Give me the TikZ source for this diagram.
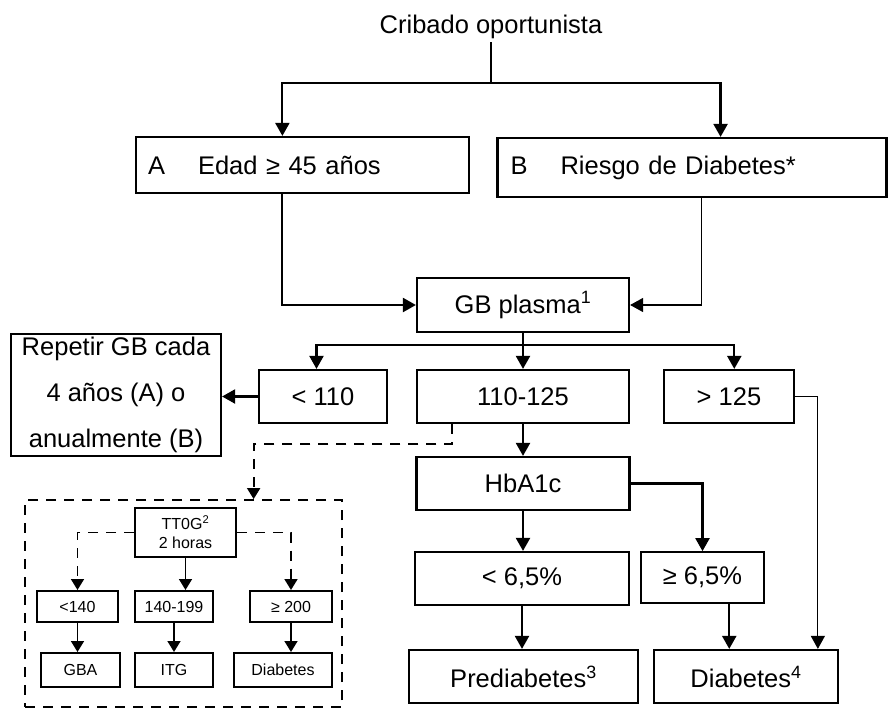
\documentclass[tikz,border=0pt]{standalone}
\usepackage{fontspec}
\setmainfont{Liberation Sans}
\usetikzlibrary{arrows.meta,calc}

\begin{document}
\begin{tikzpicture}[x=1pt,y=-1pt,
  font=\fontsize{25.5}{30}\selectfont,
  box/.style={draw,line width=2.2pt,inner sep=0pt,align=center},
  smallbox/.style={box,line width=2pt,font=\fontsize{16}{19}\selectfont},
  line/.style={line width=2.2pt},
  arr/.style={line width=2.2pt,-{Triangle[width=14pt,length=13pt]}},
  thinarr/.style={line width=1.2pt,-{Triangle[width=14pt,length=13pt]}},
  smallarr/.style={line width=1.6pt,-{Triangle[width=13pt,length=11pt]}},
  dasharr/.style={line width=1.8pt,dash pattern=on 10pt off 8pt,-{Triangle[width=13pt,length=11pt]}}]
\useasboundingbox (0,0) rectangle (889,709);

%picture
\node (crib) at (491,27) {Cribado oportunista};
\node[box,minimum width=333,minimum height=56,text width=309,align=left] (A) at (302.5,165) {A\hspace{33pt}Edad ≥ 45 años};
\node[box,minimum width=389,minimum height=59,text width=363,align=left] (B) at (692,167.5) {B\hspace{33pt}Riesgo de Diabetes*};
\node[box,minimum width=212,minimum height=54] (gb) at (523,305) {GB plasma\textsuperscript{1}};
\node[box,minimum width=128,minimum height=53] (lt) at (323,396.5) {< 110};
\node[box,minimum width=212,minimum height=53] (mid) at (523,396.5) {110-125};
\node[box,minimum width=130,minimum height=53] (gt) at (729,396.5) {> 125};
\node[box,minimum width=210,minimum height=122,font=\fontsize{25.5}{46}\selectfont] (rep) at (116,395) {Repetir GB cada\\4 años (A) o\\anualmente (B)};
\node[box,minimum width=213,minimum height=53] (hba) at (523,483.5) {HbA1c};
\node[box,minimum width=214,minimum height=53] (lo) at (522,578.5) {< 6,5\%};
\node[box,line width=1.7pt,minimum width=123,minimum height=51] (ge) at (702.5,577.5) {≥ 6,5\%};
\node[box,minimum width=229,minimum height=53] (pre) at (523.5,676.5) {Prediabetes\textsuperscript{3}};
\node[box,minimum width=184,minimum height=53] (d4) at (746,676.5) {Diabetes\textsuperscript{4}};

%sobrecarga oral
\node[draw,line width=1.8pt,dash pattern=on 10pt off 8pt,minimum width=317,minimum height=207] (frame) at (183.5,603.5) {};
\node[smallbox,minimum width=101,minimum height=49] (tt) at (185.5,532.5) {TT0G\textsuperscript{2}\\2 horas};
\node[smallbox,minimum width=81,minimum height=31] (r140) at (77.5,606.5) {<140};
\node[smallbox,minimum width=78,minimum height=31] (r199) at (174,606.5) {140-199};
\node[smallbox,minimum width=82,minimum height=31] (r200) at (291,606.5) {≥ 200};
\node[smallbox,minimum width=79,minimum height=34] (gba) at (80.5,670) {GBA};
\node[smallbox,minimum width=78,minimum height=34] (itg) at (174,670) {ITG};
\node[smallbox,minimum width=98,minimum height=34] (dia) at (283,670) {Diabetes};

%connectors
\coordinate (jtop) at (491,83);
\coordinate (jmid) at (523,345);
\coordinate (d4a) at ($(d4.north west)!0.41!(d4.north east)$);
\coordinate (fin) at ($(frame.north west)!0.72!(frame.north east)$);
\draw[line] (crib.south) -- (jtop);
\draw[arr] (jtop) -| ($(A.north west)!0.44!(A.north east)$);
\draw[arr] (jtop) -| ($(B.north west)!0.573!(B.north east)$);
\draw[arr] ($(A.south west)!0.44!(A.south east)$) |- (gb.west);
\draw[thinarr] ($(B.south west)!0.524!(B.south east)$) |- (gb.east);
\draw[line] (gb.south) -- (jmid);
\draw[arr] (jmid) -| ($(lt.north west)!0.45!(lt.north east)$);
\draw[arr] (jmid) -- (mid.north);
\draw[arr] (jmid) -| ($(gt.north west)!0.54!(gt.north east)$);
\draw[arr] (lt.west) -- (lt.west -| rep.east);
\draw[thinarr] (gt.east) -| ($(d4.north west)!0.886!(d4.north east)$);
\draw[arr] (mid.south) -- (hba.north);
\draw[arr] (hba.south) -- (hba.south |- lo.north);
\draw[arr] (hba.east) -| (ge.north);
\draw[arr] (lo.south) -- (lo.south |- pre.north);
\draw[arr] (ge.south -| d4a) -- (d4a);
\draw[dasharr] ($(mid.south west)!0.17!(mid.south east)$) -- ++(0,20) -| (fin);
\draw[dasharr] (tt.west) -| (r140.north);
\draw[dasharr] (tt.east) -| (r200.north);
\draw[smallarr] (tt.south) -- (tt.south |- r199.north);
\draw[smallarr] (r140.south) -- (r140.south |- gba.north);
\draw[smallarr] (r199.south) -- (itg.north);
\draw[smallarr] (r200.south) -- (r200.south |- dia.north);
\end{tikzpicture}
\end{document}
